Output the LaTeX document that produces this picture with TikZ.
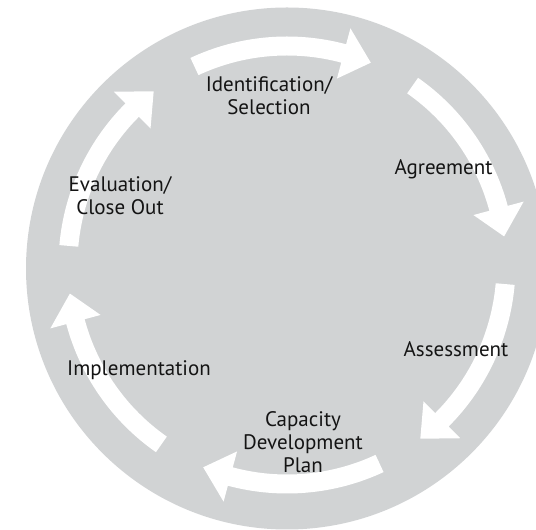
\documentclass[tikz,border=0pt]{standalone}
\usepackage{fontspec}
\setmainfont{PT Sans}
\definecolor{disc}{RGB}{209,211,212}
\definecolor{ink}{RGB}{20,20,20}
\tikzset{
  arrowfill/.style={fill=white},
  steplabel/.style={font=\fontsize{21}{23}\selectfont, text=ink, align=center, inner sep=0pt}
}
\newcommand\cycarrow[3]{%
  \fill[arrowfill] (#1:228.5pt) arc[start angle=#1, end angle=#2, radius=228.5pt]
    -- (#2:245pt) -- (#3:219pt) -- (#2:193pt) -- (#2:209.5pt)
    arc[start angle=#2, end angle=#1, radius=209.5pt] -- cycle;}
\begin{document}
\begin{tikzpicture}[x=1pt,y=1pt]
\useasboundingbox (0,0) rectangle (536,530);
\clip (0,0) rectangle (536,530);
\fill[disc] (287,261.5) circle[radius=261pt];
\begin{scope}[shift={(287,265)}]
  \cycarrow{115}{75}{67.5}
  \cycarrow{55}{15}{7.5}
  \cycarrow{-5}{-45}{-52.5}
  \cycarrow{-65}{-105}{-112.5}
  \cycarrow{-125}{-165}{-172.5}
  \cycarrow{175}{135}{127.5}
\end{scope}
\node[steplabel] (ident) at (269,434) {Identification/\\Selection};
\node[steplabel] (agree) at (443.5,361) {Agreement};
\node[steplabel] (assess) at (456,180.5) {Assessment};
\node[steplabel] (cdp) at (303,88) {Capacity\\Development\\Plan};
\node[steplabel] (impl) at (139,159.5) {Implementation};
\node[steplabel] (eval) at (120,334) {Evaluation/\\Close Out};
\end{tikzpicture}
\end{document}
